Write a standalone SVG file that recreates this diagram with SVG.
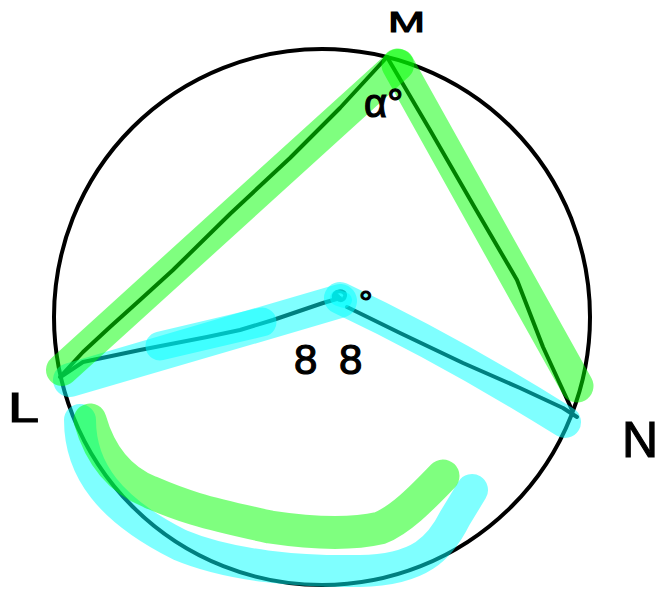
<svg xmlns="http://www.w3.org/2000/svg" width="658" height="589" viewBox="0 0 658 589">
<style>
.ink{fill:none;stroke:#000;stroke-width:4;stroke-linecap:round;stroke-linejoin:round}
.cy{fill:none;stroke:#00ffff;stroke-opacity:0.5;stroke-linecap:round;stroke-linejoin:round}
.gr{fill:none;stroke:#00ff00;stroke-opacity:0.5;stroke-linecap:round;stroke-linejoin:round}
.lbl{font-family:"Liberation Sans",Arial,sans-serif;fill:#000;stroke:#000;stroke-width:1.2}
</style>
<rect width="658" height="589" fill="#fff"/>
<g id="circle">
<circle cx="322" cy="317" r="268" class="ink"/>
</g>
<g id="connectors">
<path id="LM" class="ink" d="M60 377 L83 352 L110 327 L140 300 L173 270 L230 214 L290 158 L340 108 L387 57"/>
<path id="MN" class="ink" d="M387 57 L430 130 L475 208 L517 280 L543 347 L572 410"/>
<path id="LO" class="ink" d="M62 376 L83 362 L140 350 L207 337 L240 330 L273 320 L323 303 L340 298"/>
<path id="ON" class="ink" d="M347 307 L400 333 L463 363 L520 388 L563 408 L577 417"/>
<path id="Ocurl" class="ink" d="M334 298 C332 290 346 289 345 296 C344 302 336 301 338 296"/>
<path id="cyLO" class="cy" stroke-width="34" d="M70 380 L340 301"/>
<path id="cyLO2" class="cy" stroke-width="29" d="M160 346 L262 322"/>
<path id="cyO" class="cy" stroke-width="16" d="M338 298 L344 300"/>
<path id="cyON" class="cy" stroke-width="32" d="M340 298 Q450 350 565 422"/>
<path id="cyArc" class="cy" stroke-width="32" d="M80 420 C80 470 110 510 180 545 C230 566 300 572 360 571 C420 570 440 548 455 518 L472 490"/>
<path id="grLM" class="gr" stroke-width="32" d="M62 370 L398 65"/>
<path id="grMN" class="gr" stroke-width="33" d="M398 65 L577 386"/>
<path id="grArc" class="gr" stroke-width="33" d="M90 420 C100 455 120 480 150 492 C180 505 200 512 270 527 C310 533 350 535 380 528 C400 520 420 500 443 476"/>
</g>
<g id="node-M"><text class="lbl" x="388" y="32" font-size="30" textLength="37" lengthAdjust="spacingAndGlyphs">M</text></g>
<g id="node-L"><text class="lbl" x="8" y="422" font-size="42" textLength="31" lengthAdjust="spacingAndGlyphs">L</text></g>
<g id="node-N"><text class="lbl" x="622" y="457" font-size="50">N</text></g>
<g id="angle-M"><text class="lbl" x="364" y="117" font-size="40">α°</text></g>
<g id="angle-O">
<text class="lbl" x="294" y="374" font-size="42" word-spacing="10">8 8</text>
<text class="lbl" x="359" y="314" font-size="34">°</text>
</g>
</svg>
